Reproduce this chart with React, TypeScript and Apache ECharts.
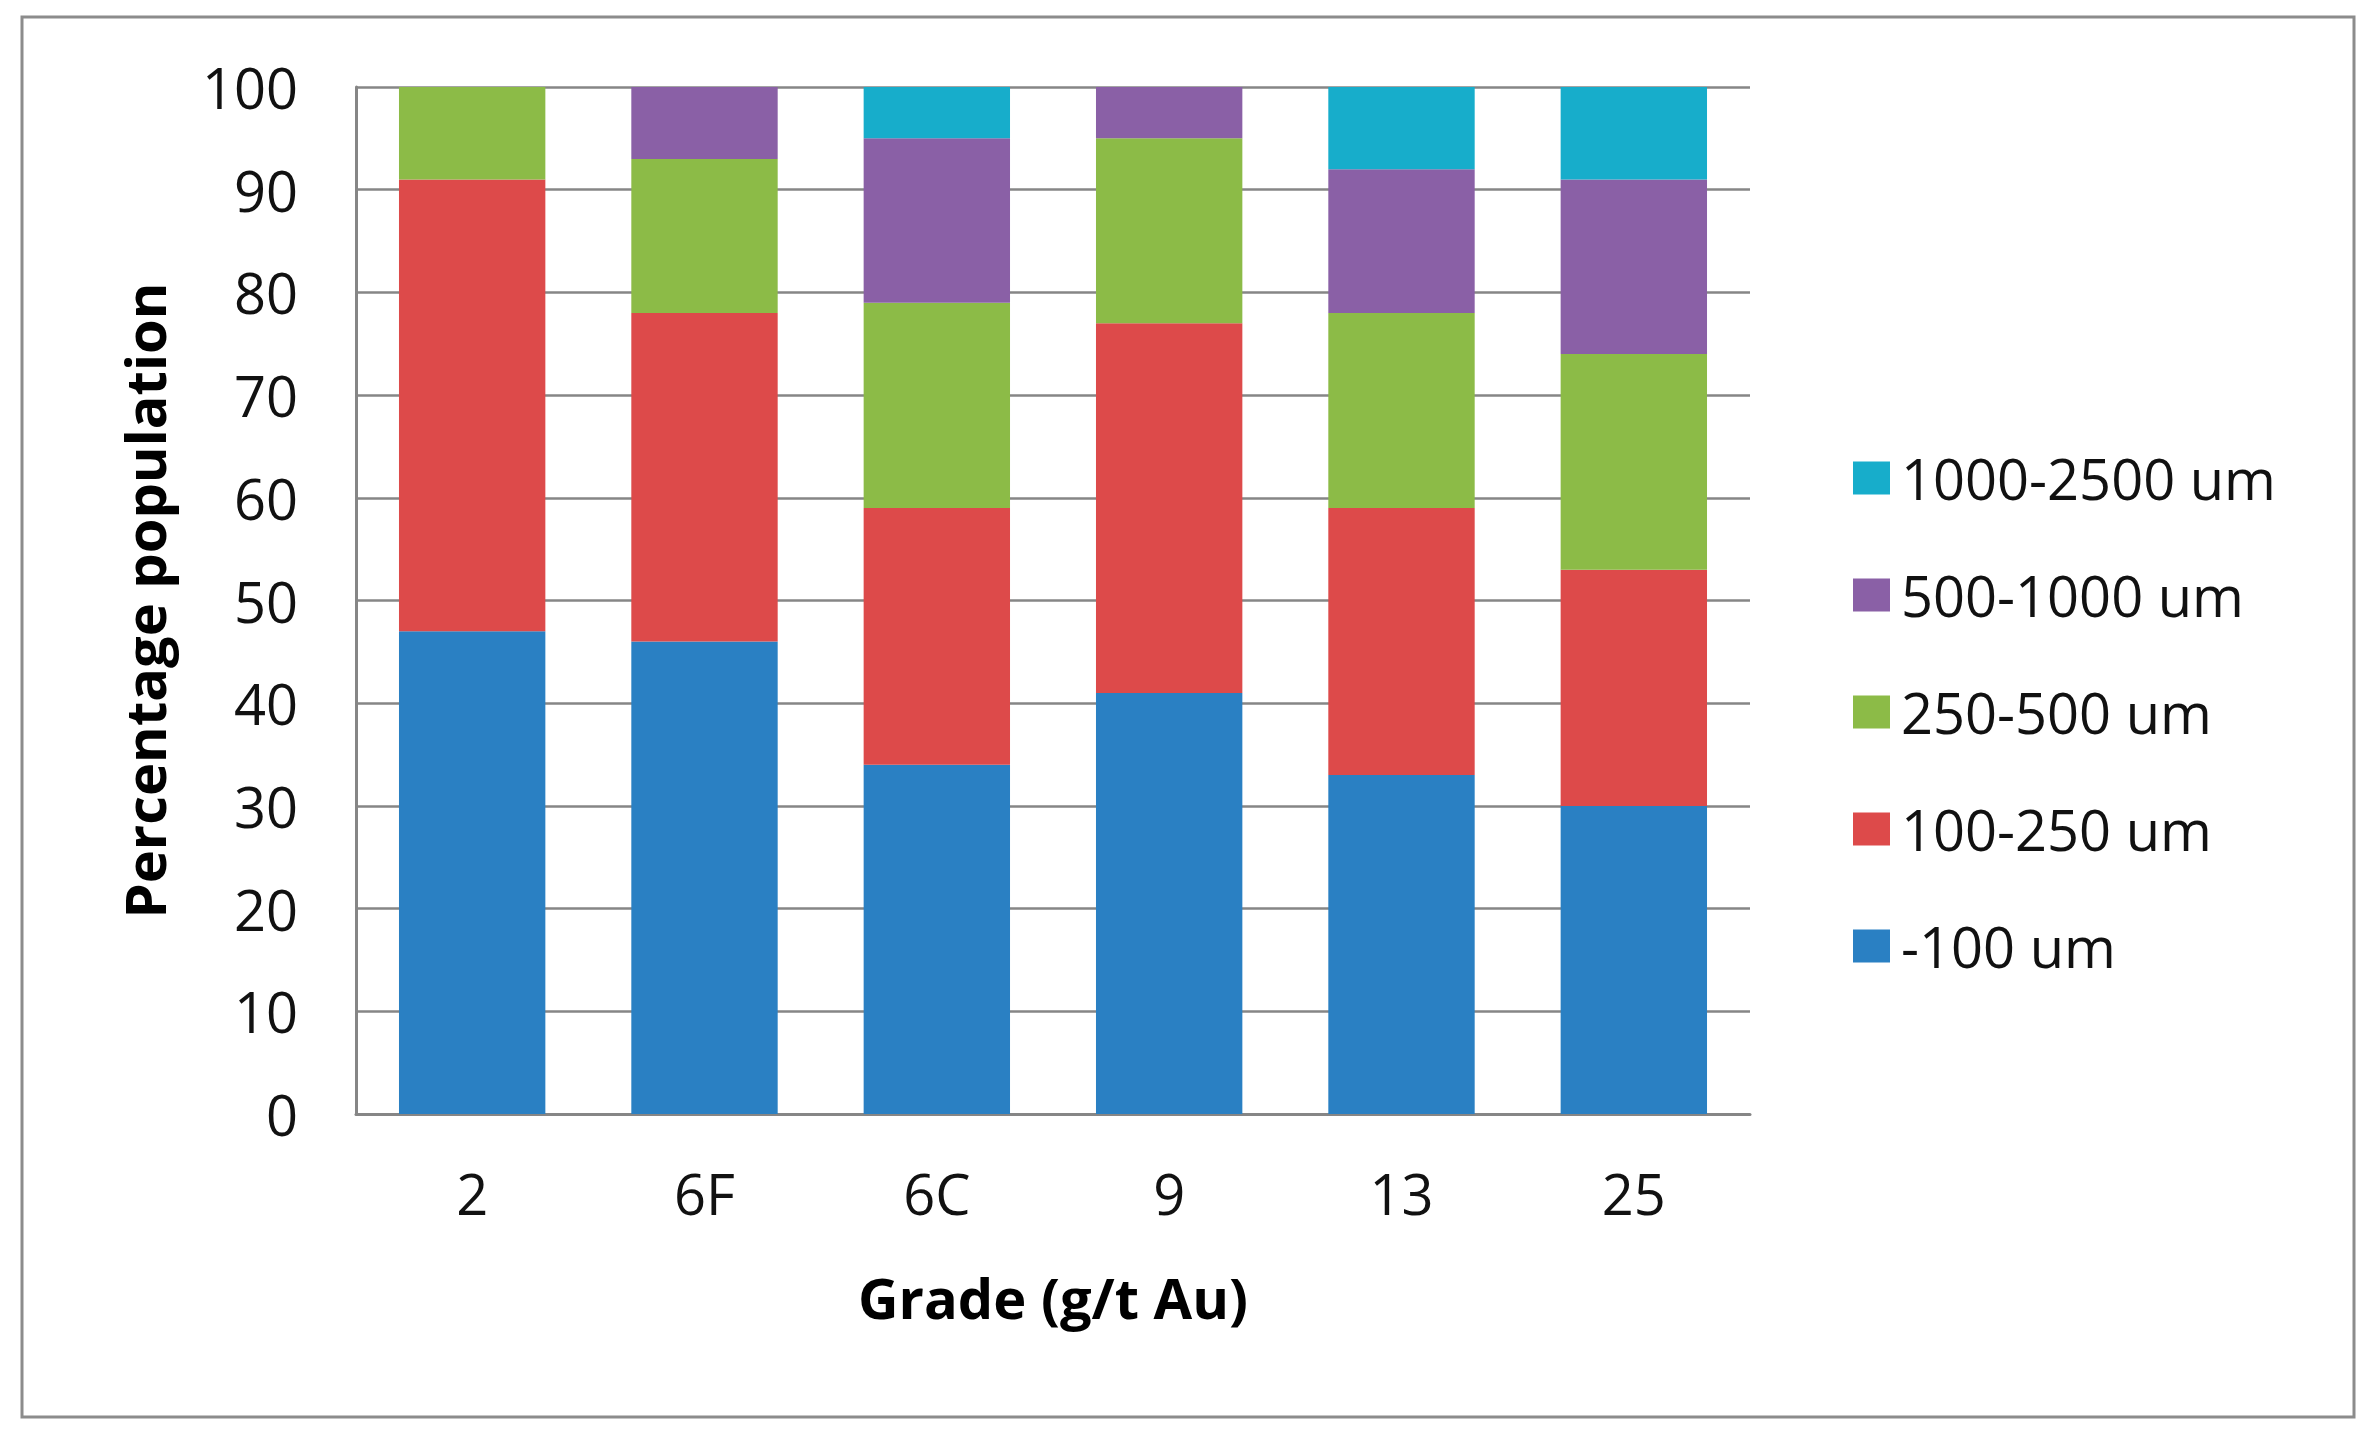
import React, { useEffect, useRef } from "react";
import * as echarts from "echarts";

const categories = ["2", "6F", "6C", "9", "13", "25"];
const seriesNames = ["-100 um", "100-250 um", "250-500 um", "500-1000 um", "1000-2500 um"];
const under100 = [47, 46, 34, 41, 33, 30];
const from100to250 = [44, 32, 25, 36, 26, 23];
const from250to500 = [9, 15, 20, 18, 19, 21];
const from500to1000 = [0, 7, 16, 5, 14, 17];
const from1000to2500 = [0, 0, 5, 0, 8, 9];
const yTicks = { min: 0, max: 100, interval: 10 };
const colors = ["#2a80c3", "#dd4a4a", "#8cbb47", "#8a60a6", "#17adcb"];

const FONT = "'Open Sans', 'DejaVu Sans', sans-serif";

export default function App() {
  const ref = useRef<HTMLDivElement>(null);
  useEffect(() => {
    if (!ref.current) return;
    const chart = echarts.init(ref.current, undefined, { renderer: "svg" });
    const values = [under100, from100to250, from250to500, from500to1000, from1000to2500];
    chart.setOption({
      animation: false,
      backgroundColor: "#ffffff",
      textStyle: { fontFamily: FONT },
      graphic: [
        {
          type: "rect",
          shape: { x: 22, y: 17, width: 2332, height: 1400 },
          style: { fill: "none", stroke: "#8c8c8c", lineWidth: 3 },
          silent: true,
        },
      ],
      grid: { left: 356, top: 87, width: 1394, height: 1027, containLabel: false },
      legend: {
        orient: "vertical",
        left: 1848,
        top: 445,
        itemWidth: 37,
        itemHeight: 33,
        itemGap: 61,
        icon: "rect",
        data: [...seriesNames].reverse(),
        textStyle: { fontFamily: FONT, fontSize: 56, color: "#111", padding: [0, 0, 0, 6] },
      },
      xAxis: {
        type: "category",
        data: categories,
        name: "Grade (g/t Au)",
        nameLocation: "middle",
        nameGap: 155,
        nameTextStyle: { fontFamily: FONT, fontSize: 56, fontWeight: "bold", color: "#000" },
        axisLine: { show: true, lineStyle: { color: "#868686", width: 3 } },
        axisTick: { show: false },
        axisLabel: { fontFamily: FONT, fontSize: 56, color: "#111", margin: 51 },
        splitLine: { show: false },
      },
      yAxis: {
        type: "value",
        min: yTicks.min,
        max: yTicks.max,
        interval: yTicks.interval,
        name: "Percentage population",
        nameLocation: "middle",
        nameGap: 184,
        nameTextStyle: { fontFamily: FONT, fontSize: 56, fontWeight: "bold", color: "#000" },
        axisLine: { show: true, lineStyle: { color: "#868686", width: 3 } },
        axisTick: { show: false },
        axisLabel: { fontFamily: FONT, fontSize: 56, color: "#111", margin: 58 },
        splitLine: { show: true, lineStyle: { color: "#868686", width: 2.5 } },
      },
      series: seriesNames.map((name, i) => ({
        name,
        type: "bar",
        stack: "total",
        barCategoryGap: "37%",
        data: values[i],
        itemStyle: { color: colors[i] },
      })),
    });
    return () => chart.dispose();
  }, []);
  return (
    <div
      ref={ref}
      style={{ position: "absolute", left: 0, top: 0, width: 2374, height: 1434 }}
    />
  );
}
